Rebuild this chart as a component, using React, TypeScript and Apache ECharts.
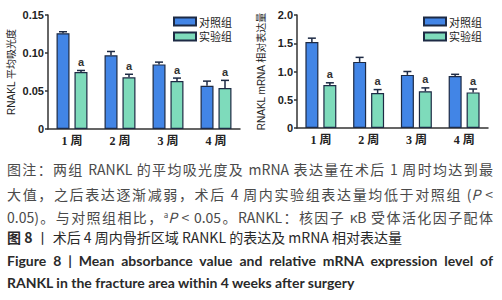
import React, { useEffect, useRef } from "react";
import * as echarts from "echarts";

const categories = ["1 周", "2 周", "3 周", "4 周"];
const seriesNames = ["对照组", "实验组"];

// Left panel: RANKL mean absorbance
const leftControl = [0.126, 0.097, 0.085, 0.057];
const leftControlErr = [0.002, 0.005, 0.003, 0.006];
const leftExp = [0.075, 0.068, 0.063, 0.054];
const leftExpErr = [0.002, 0.004, 0.004, 0.010];
const leftTicks = { min: 0, max: 0.15, interval: 0.05 };
const leftName = "RNAKL 平均吸光度";

// Right panel: RANKL mRNA relative expression
const rightControl = [1.52, 1.17, 0.94, 0.92];
const rightControlErr = [0.07, 0.08, 0.06, 0.03];
const rightExp = [0.76, 0.62, 0.65, 0.63];
const rightExpErr = [0.04, 0.06, 0.06, 0.06];
const rightTicks = { min: 0, max: 2.0, interval: 0.5 };
const rightName = "RNAKL mRNA 相对表达量";

const sigMarks = ["a", "a", "a", "a"];

const captionLine1 = "图注：两组 RANKL 的平均吸光度及 mRNA 表达量在术后 1 周时均达到最";
const captionLine2a = "大值，之后表达逐渐减弱，术后 4 周内实验组表达量均低于对照组 (";
const captionLine3a = "0.05)。与对照组相比，";
const captionLine3b = " < 0.05。RANKL：核因子 κB 受体活化因子配体";
const figLabelZh = "图 8";
const figTitleZh = " 丨 术后 4 周内骨折区域 RANKL 的表达及 mRNA 相对表达量";
const figTitleEn1 = "Figure 8  |  Mean absorbance value and relative mRNA expression level of";
const figTitleEn2 = "RANKL in the fracture area within 4 weeks after surgery";

const BLUE = "#4285e6";
const GREEN = "#7edbbb";
const EDGE = "#1d2a44";
const AXIS = "#333333";
const BAR_W = 13;
const HALF = 9;

function errSeries(vals: number[], errs: number[], idx: number, offset: number, marks: string[] | null) {
  return {
    type: "custom",
    xAxisIndex: idx,
    yAxisIndex: idx,
    z: 5,
    silent: true,
    encode: { x: 0, y: [1, 2] },
    data: vals.map((v, i) => [i, v, v + errs[i]]),
    renderItem: (params: any, api: any) => {
      const i = api.value(0);
      const v = api.value(1);
      const e = api.value(2);
      const p0 = api.coord([i, v]);
      const p1 = api.coord([i, e]);
      const cx = p0[0] + offset;
      const children: any[] = [
        { type: "line", shape: { x1: cx, y1: p0[1], x2: cx, y2: p1[1] }, style: { stroke: EDGE, lineWidth: 1.5 } },
        { type: "line", shape: { x1: cx - 4, y1: p1[1], x2: cx + 4, y2: p1[1] }, style: { stroke: EDGE, lineWidth: 1.5 } },
      ];
      if (marks) {
        children.push({
          type: "text",
          x: cx,
          y: p1[1] - 3,
          style: {
            text: marks[params.dataIndex],
            textAlign: "center",
            textVerticalAlign: "bottom",
            fontSize: 11,
            fontWeight: "bold",
            fontFamily: "Liberation Sans, Arial, sans-serif",
            fill: "#333",
          },
        });
      }
      return { type: "group", children };
    },
  };
}

function barSeries(name: string, data: number[], idx: number, color: string) {
  return {
    type: "bar",
    name,
    xAxisIndex: idx,
    yAxisIndex: idx,
    data,
    barWidth: BAR_W,
    barGap: "38%",
    itemStyle: { color, borderColor: EDGE, borderWidth: 1.2 },
  };
}

export default function App() {
  const ref = useRef<HTMLDivElement>(null);
  useEffect(() => {
    document.body.style.margin = "0";
    if (!ref.current) return;
    const chart = echarts.init(ref.current, null, { renderer: "svg" });
    const axisLabel = {
      color: "#222",
      fontSize: 11,
      fontWeight: "bold",
      fontFamily: "Liberation Sans, Arial, sans-serif",
      margin: 4,
    };
    const makeX = (idx: number) => ({
      type: "category",
      gridIndex: idx,
      data: categories,
      axisLine: { lineStyle: { color: AXIS, width: 1.5 } },
      axisTick: { alignWithLabel: true, length: 3, lineStyle: { color: AXIS, width: 1.5 } },
      axisLabel: {
        color: "#222",
        fontSize: 12,
        fontWeight: "bold",
        fontFamily: "Liberation Serif, Noto Sans CJK SC, serif",
        margin: 6,
      },
    });
    const makeY = (idx: number, t: any, name: string, dec: number) => ({
      type: "value",
      gridIndex: idx,
      min: t.min,
      max: t.max,
      interval: t.interval,
      name,
      nameLocation: "middle",
      nameGap: idx === 0 ? 32 : 31,
      nameTextStyle: { fontSize: 10, color: "#222", fontFamily: "Liberation Sans, Noto Sans CJK SC, sans-serif" },
      splitLine: { show: false },
      axisLine: { show: true, lineStyle: { color: AXIS, width: 1.5 } },
      axisTick: { show: true, length: 3, lineStyle: { color: AXIS, width: 1.5 } },
      axisLabel: { ...axisLabel, formatter: (v: number) => (v === 0 ? "0" : v.toFixed(dec)) },
    });
    const legendBase = {
      orient: "vertical",
      top: 11,
      itemWidth: 22,
      itemHeight: 8,
      itemGap: 4,
      icon: "rect",
      data: seriesNames,
      textStyle: { fontSize: 11, color: "#222", fontFamily: "Noto Sans CJK SC, sans-serif", padding: [0, 0, 0, -2] },
    };
    chart.setOption({
      animation: false,
      grid: [
        { left: 48, top: 15, width: 192, height: 114 },
        { left: 297, top: 15, width: 191, height: 113 },
      ],
      legend: [
        { ...legendBase, left: 168 },
        { ...legendBase, left: 418 },
      ],
      xAxis: [makeX(0), makeX(1)],
      yAxis: [makeY(0, leftTicks, leftName, 2), makeY(1, rightTicks, rightName, 1)],
      series: [
        barSeries(seriesNames[0], leftControl, 0, BLUE),
        barSeries(seriesNames[1], leftExp, 0, GREEN),
        barSeries(seriesNames[0], rightControl, 1, BLUE),
        barSeries(seriesNames[1], rightExp, 1, GREEN),
        errSeries(leftControl, leftControlErr, 0, -HALF, null),
        errSeries(leftExp, leftExpErr, 0, HALF, sigMarks),
        errSeries(rightControl, rightControlErr, 1, -HALF, null),
        errSeries(rightExp, rightExpErr, 1, HALF, sigMarks),
      ],
    } as any);
    return () => chart.dispose();
  }, []);

  const zhFont = "'Noto Sans CJK SC', 'Lato', sans-serif";
  const enFont = "Lato, 'Open Sans', sans-serif";
  const base: React.CSSProperties = {
    position: "absolute",
    left: 7,
    lineHeight: "18px",
    height: 18,
    fontSize: 14,
    overflow: "visible",
  };
  const justify: React.CSSProperties = {
    ...base,
    width: 486,
    textAlign: "justify",
    textAlignLast: "justify",
  };

  return (
    <div style={{ position: "relative", width: 502, height: 300, background: "#fff", overflow: "hidden" }}>
      <div ref={ref} style={{ position: "absolute", left: 0, top: 0, width: 502, height: 300 }} />
      <div style={{ ...justify, top: 160, fontFamily: zhFont, color: "#4a4a4a" }}>{captionLine1}</div>
      <div style={{ ...justify, top: 185, fontFamily: zhFont, color: "#4a4a4a" }}>
        {captionLine2a}
        <i>P</i> &lt;
      </div>
      <div style={{ ...justify, top: 208, fontFamily: zhFont, color: "#4a4a4a" }}>
        {captionLine3a}
        <span style={{ fontSize: 8, lineHeight: 0, verticalAlign: 5 }}>a</span>
        <i>P</i>
        {captionLine3b}
      </div>
      <div style={{ ...base, top: 228, fontFamily: zhFont, color: "#2a2a2a", whiteSpace: "nowrap" }}>
        <b>{figLabelZh}</b>
        {figTitleZh}
      </div>
      <div style={{ ...justify, top: 252, fontFamily: enFont, fontWeight: "bold", color: "#2a2a2a" }}>{figTitleEn1}</div>
      <div style={{ ...base, top: 274, fontFamily: enFont, fontWeight: "bold", color: "#2a2a2a", whiteSpace: "nowrap" }}>
        {figTitleEn2}
      </div>
    </div>
  );
}
